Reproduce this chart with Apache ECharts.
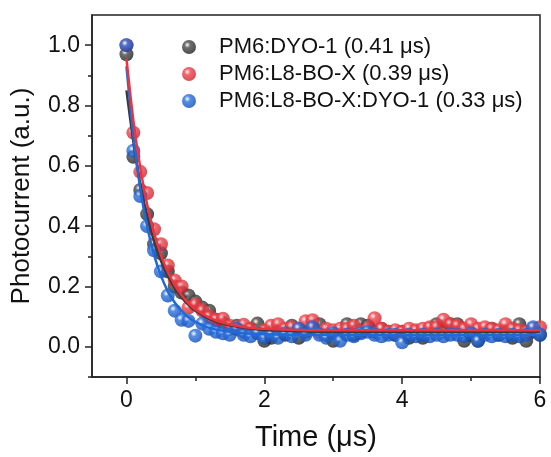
<!DOCTYPE html>
<html>
<head>
<meta charset="utf-8">
<script src="https://cdn.jsdelivr.net/npm/echarts@6/dist/echarts.min.js"></script>
<style>
  html, body { margin: 0; padding: 0; background: #fff; }
  #chart { width: 551px; height: 457px; }
</style>
</head>
<body>
<div id="chart"></div>
<script>
// sampling times (μs)
const time = [
  0.0, 0.1, 0.2, 0.3, 0.4, 0.5, 0.6, 0.7, 0.8, 0.9,
  1.0, 1.1, 1.2, 1.3, 1.4, 1.5, 1.6, 1.7, 1.8, 1.9,
  2.0, 2.1, 2.2, 2.3, 2.4, 2.5, 2.6, 2.7, 2.8, 2.9,
  3.0, 3.1, 3.2, 3.3, 3.4, 3.5, 3.6, 3.7, 3.8, 3.9,
  4.0, 4.1, 4.2, 4.3, 4.4, 4.5, 4.6, 4.7, 4.8, 4.9,
  5.0, 5.1, 5.2, 5.3, 5.4, 5.5, 5.6, 5.7, 5.8, 5.9, 6.0
];

const dyo1 = [
  0.97, 0.63, 0.52, 0.44, 0.34, 0.31, 0.25, 0.20, 0.18, 0.17,
  0.15, 0.13, 0.12, 0.09, 0.08, 0.06, 0.07, 0.05, 0.06, 0.077,
  0.02, 0.03, 0.05, 0.04, 0.07, 0.03, 0.05, 0.06, 0.075, 0.04,
  0.02, 0.05, 0.075, 0.04, 0.075, 0.07, 0.05, 0.06, 0.05, 0.04,
  0.05, 0.03, 0.05, 0.03, 0.06, 0.075, 0.05, 0.075, 0.075, 0.02,
  0.04, 0.02, 0.05, 0.06, 0.04, 0.05, 0.03, 0.075, 0.02, 0.05, 0.04
];

const l8box = [
  1.00, 0.71, 0.58, 0.51, 0.39, 0.34, 0.27, 0.22, 0.20, 0.13,
  0.14, 0.12, 0.10, 0.09, 0.093, 0.07, 0.06, 0.073, 0.06, 0.05,
  0.055, 0.07, 0.075, 0.06, 0.065, 0.06, 0.085, 0.088, 0.05, 0.06,
  0.055, 0.06, 0.06, 0.07, 0.05, 0.06, 0.095, 0.06, 0.05, 0.055,
  0.05, 0.06, 0.055, 0.06, 0.065, 0.065, 0.09, 0.075, 0.07, 0.06,
  0.075, 0.06, 0.065, 0.06, 0.055, 0.075, 0.06, 0.055, 0.05, 0.06, 0.065
];

const ternary = [
  1.00, 0.65, 0.50, 0.40, 0.32, 0.25, 0.17, 0.12, 0.09, 0.086,
  0.037, 0.077, 0.06, 0.05, 0.045, 0.04, 0.06, 0.04, 0.035, 0.045,
  0.03, 0.04, 0.03, 0.045, 0.035, 0.06, 0.04, 0.065, 0.04, 0.03,
  0.045, 0.02, 0.04, 0.035, 0.045, 0.05, 0.04, 0.035, 0.04, 0.04,
  0.015, 0.04, 0.035, 0.04, 0.035, 0.04, 0.035, 0.04, 0.04, 0.035,
  0.045, 0.02, 0.04, 0.035, 0.04, 0.035, 0.04, 0.035, 0.04, 0.065, 0.04
];

// fitted decay curves
const fitTime = [0, 0.1, 0.2, 0.3, 0.4, 0.5, 0.6, 0.7, 0.8, 0.9, 1.0, 1.2, 1.4, 1.7, 2.0, 2.5, 3.0, 4.0, 5.0, 6.0];
const fitDyo1 = [0.85, 0.68, 0.54, 0.435, 0.35, 0.285, 0.235, 0.195, 0.164, 0.139, 0.12, 0.093, 0.076, 0.063, 0.056, 0.052, 0.05, 0.05, 0.05, 0.05];
const fitL8box = [0.955, 0.75, 0.594, 0.472, 0.378, 0.305, 0.248, 0.205, 0.171, 0.145, 0.124, 0.097, 0.08, 0.066, 0.06, 0.056, 0.055, 0.055, 0.055, 0.055];
const fitTernary = [0.93, 0.70, 0.525, 0.40, 0.305, 0.236, 0.184, 0.147, 0.119, 0.098, 0.083, 0.063, 0.053, 0.045, 0.042, 0.04, 0.04, 0.04, 0.04, 0.04];

const names = ['PM6:DYO-1 (0.41 μs)', 'PM6:L8-BO-X (0.39 μs)', 'PM6:L8-BO-X:DYO-1 (0.33 μs)'];
const xMajor = [0, 2, 4, 6];
const xMinor = [1, 3, 5];
const yMajor = [0, 0.2, 0.4, 0.6, 0.8, 1.0];
const yMinor = [-0.1, 0.1, 0.3, 0.5, 0.7, 0.9];

const ink = '#222';
const font = '"Liberation Sans", Arial, sans-serif';

function sphere(base, dark) {
  return {
    type: 'radial', x: 0.38, y: 0.35, r: 0.7,
    colorStops: [
      { offset: 0, color: '#ffffff' },
      { offset: 0.3, color: base },
      { offset: 1, color: dark }
    ]
  };
}

const zip = (xs, ys) => xs.map((x, i) => [x, ys[i]]);

const chart = echarts.init(document.getElementById('chart'), null, { renderer: 'canvas' });

const xCommon = { type: 'value', min: -0.5, max: 6, splitLine: { show: false } };
const yCommon = { type: 'value', min: -0.1, max: 1.1, splitLine: { show: false } };

chart.setOption({
  animation: false,
  backgroundColor: '#fff',
  textStyle: { fontFamily: font },
  grid: { left: 92, right: 11, top: 15, bottom: 80, show: true, borderColor: ink, borderWidth: 1.5 },
  legend: {
    left: 177, top: 31, orient: 'vertical', itemGap: 5, itemWidth: 14, itemHeight: 14,
    icon: 'circle',
    data: names,
    textStyle: { fontFamily: font, fontSize: 22, color: '#111', padding: [0, 0, 0, 18] }
  },
  xAxis: [
    Object.assign({}, xCommon, {
      name: 'Time (μs)', nameLocation: 'middle', nameGap: 46,
      nameTextStyle: { fontFamily: font, fontSize: 29, color: '#111' },
      axisLine: { show: true, onZero: false, lineStyle: { color: ink, width: 1.5 } },
      axisTick: { show: true, inside: false, length: 7, customValues: xMajor, lineStyle: { color: ink, width: 1.5 } },
      axisLabel: { customValues: xMajor, margin: 12, fontFamily: font, fontSize: 23, color: '#111' }
    }),
    Object.assign({}, xCommon, {
      position: 'bottom',
      axisLine: { show: false, onZero: false },
      axisTick: { show: true, inside: false, length: 4, customValues: xMinor, lineStyle: { color: ink, width: 1.5 } },
      axisLabel: { show: false }
    })
  ],
  yAxis: [
    Object.assign({}, yCommon, {
      name: 'Photocurrent (a.u.)', nameLocation: 'middle', nameGap: 57,
      nameTextStyle: { fontFamily: font, fontSize: 26, color: '#111' },
      axisLine: { show: true, onZero: false, lineStyle: { color: ink, width: 1.5 } },
      axisTick: { show: true, inside: false, length: 7, customValues: yMajor, lineStyle: { color: ink, width: 1.5 } },
      axisLabel: { customValues: yMajor, margin: 12, fontFamily: font, fontSize: 23, color: '#111',
        formatter: v => v.toFixed(1) }
    }),
    Object.assign({}, yCommon, {
      position: 'left',
      axisLine: { show: false, onZero: false },
      axisTick: { show: true, inside: false, length: 4, customValues: yMinor, lineStyle: { color: ink, width: 1.5 } },
      axisLabel: { show: false }
    })
  ],
  series: [
    { name: names[0], type: 'scatter', data: zip(time, dyo1), symbolSize: 14,
      itemStyle: { color: sphere('#4a4a4a', '#1c1c1c') }, z: 2 },
    { name: names[1], type: 'scatter', data: zip(time, l8box), symbolSize: 14,
      itemStyle: { color: sphere('#f2444c', '#c81e28') }, z: 3 },
    { name: names[2], type: 'scatter', data: zip(time, ternary), symbolSize: 14,
      itemStyle: { color: sphere('#2a72e0', '#1049b0') }, z: 4 },
    { type: 'line', data: zip(fitTime, fitDyo1), smooth: 0.3, showSymbol: false,
      lineStyle: { color: '#3a3a3a', width: 2.5 }, z: 5 },
    { type: 'line', data: zip(fitTime, fitTernary), smooth: 0.3, showSymbol: false,
      lineStyle: { color: '#1f6ad8', width: 2.5 }, z: 6 },
    { type: 'line', data: zip(fitTime, fitL8box), smooth: 0.3, showSymbol: false,
      lineStyle: { color: '#ee3340', width: 2.5 }, z: 7 }
  ]
});
</script>
</body>
</html>
